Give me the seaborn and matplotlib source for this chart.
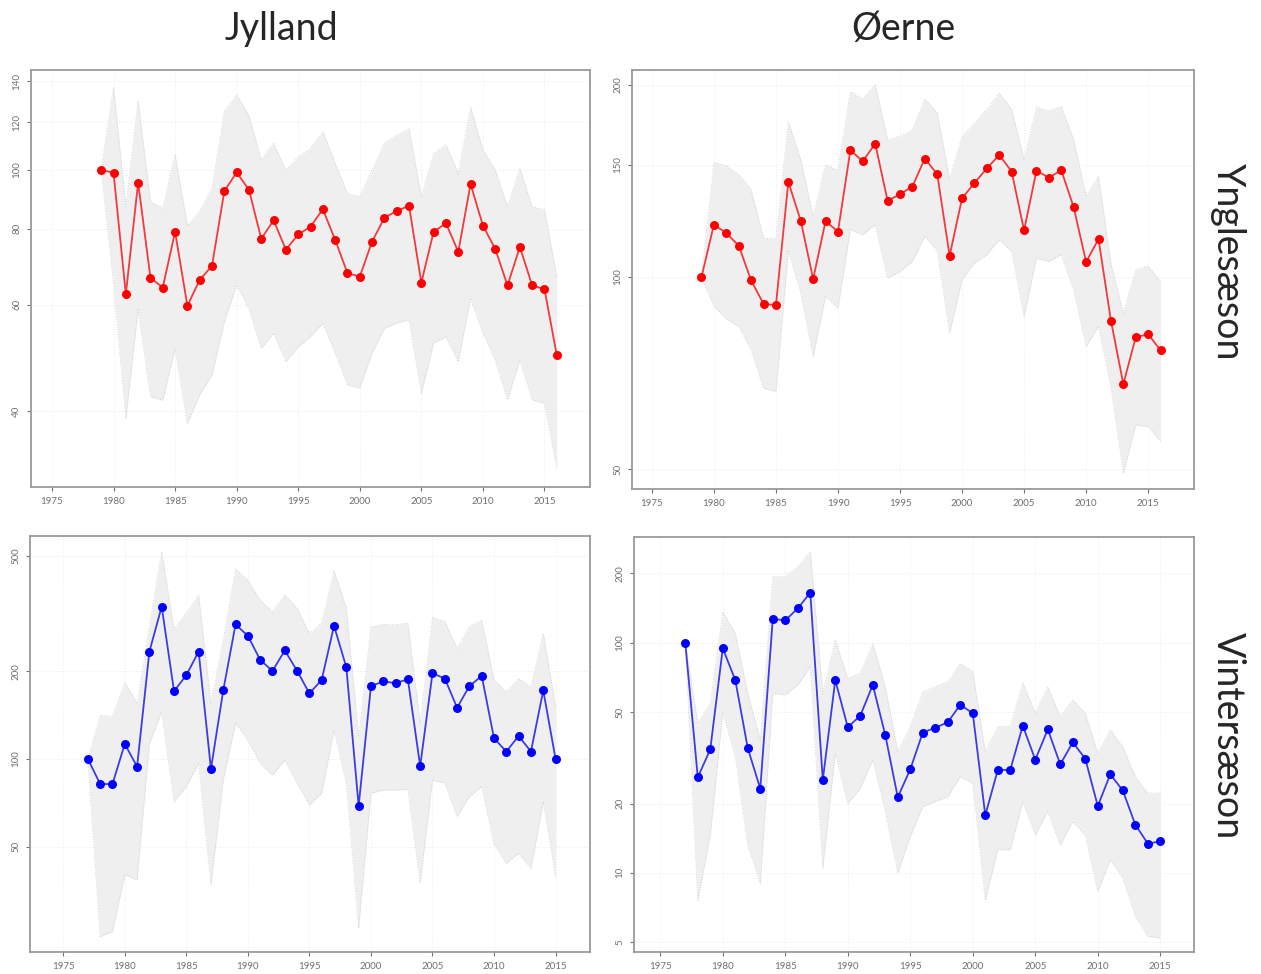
import matplotlib
matplotlib.use("Agg")
import matplotlib.pyplot as plt
import seaborn as sns
import numpy as np
from matplotlib.ticker import FixedLocator, NullLocator

# Jylland, ynglesæson (1979-2016)
years_jy = list(range(1979, 2017))
index_jy = [100, 99, 62.4, 95.3, 66.4, 64, 79.1, 59.7, 65.9, 69.5, 92.3, 99.1, 92.8, 77, 82.6,
            73.9, 78.3, 80.6, 86.2, 76.7, 67.6, 66.7, 76.2, 83.4, 85.6, 87.3, 65.2, 79.1, 81.7,
            73.3, 94.8, 81, 74.1, 64.5, 74.7, 64.5, 63.6, 49.5]
upper_jy = [100, 137, 87, 130, 88.7, 86.5, 106, 81, 85.4, 93.3, 124.8, 133, 123, 104, 110.7,
            100, 105, 108.6, 115.7, 102.6, 91.5, 90.4, 100, 110.7, 114.2, 117, 90.4, 106.5, 110,
            98.7, 127, 108, 100, 87, 100.6, 87, 86, 66.7]
lower_jy = [100, 65, 38.9, 59, 42.3, 41.7, 50.8, 38.2, 42.6, 45.9, 56.2, 64.6, 59, 50.8, 53.8,
            48.3, 51.1, 53.1, 55.9, 49.9, 44.2, 43.7, 49.9, 54.8, 55.9, 56.6, 42.8, 51.8, 53.1,
            48.3, 61.4, 53.8, 48.6, 41.8, 48.6, 41.8, 41.2, 32.2]

# Øerne, ynglesæson (1979-2016)
years_oy = list(range(1979, 2017))
index_oy = [100, 120.8, 117.2, 112, 98.8, 90.8, 90.4, 140.9, 122.5, 99.3, 122.3, 117.8, 158,
            151.8, 161.8, 131.7, 134.8, 138.6, 153.3, 144.9, 108, 132.8, 140.4, 148, 155.3,
            146.3, 118.3, 146.8, 143.1, 147, 128.6, 105.6, 114.7, 85.5, 68, 80.5, 81.4, 76.8]
upper_oy = [100, 151, 149.5, 144.7, 137, 115, 114.8, 175, 152.7, 124.5, 150, 147, 195, 190,
            200, 164, 166, 170, 190, 180.8, 142, 166, 174, 183, 194, 183, 152.7, 184.5, 182,
            185, 164, 133.8, 144, 105, 87.8, 102.7, 104, 98.4]
lower_oy = [100, 90, 86, 83.7, 77, 67, 66.2, 110, 94.4, 75.1, 93.3, 89.4, 118.6, 116.5, 120.8,
            99.6, 102, 105.8, 115.8, 110, 81.7, 99, 105.2, 108.4, 114.4, 109.7, 86.8, 107,
            105.8, 108.4, 95.5, 77.9, 83.7, 67.4, 49.3, 58.7, 58.3, 55.3]

# Jylland, vintersæson (1977-2015)
years_jv = list(range(1977, 2016))
index_jv = [100, 82, 82, 112.6, 94.1, 234, 334, 171, 194, 234, 92.4, 172, 290, 265, 219, 200.7,
            236, 201, 168, 187, 287, 206.6, 68.9, 177.7, 185, 182, 188, 94.4, 197, 189, 150,
            178, 193, 117.8, 106, 120, 106, 172, 100]
upper_jv = [100, 141, 140, 183, 155, 285, 516, 278, 317, 366, 155, 256, 449, 412, 352, 321, 366,
            330, 270, 293, 443, 330, 119, 285, 290, 289, 293, 132.6, 307, 297, 240, 285, 300,
            187, 170, 189, 177, 270, 151]
lower_jv = [100, 24.5, 25.5, 39.9, 38.4, 113, 145, 71.3, 80.3, 96.6, 36.9, 84.7, 132.6, 116,
            96.6, 88, 99, 82.5, 69.5, 76.2, 125.8, 82.5, 26.2, 76.2, 78.2, 78.2, 78.6, 37.4,
            84.7, 82.5, 63.4, 74.2, 80.3, 51, 43.8, 47.4, 42, 71.3, 39.4]

# Øerne, vintersæson (1977-2015)
years_ov = list(range(1977, 2016))
index_ov = [100, 26, 34.4, 94.5, 68.8, 34.8, 23.2, 127, 125, 141, 165, 25.3, 68.8, 42.9, 48.2,
            65.5, 39.7, 21.3, 28.2, 40.7, 42.7, 45.1, 53.8, 49.3, 17.8, 28, 28, 43.6, 31, 42,
            29.6, 36.9, 31.3, 19.5, 26.8, 22.8, 16.2, 13.4, 13.7]
upper_ov = [100, 44.6, 54.5, 136, 110, 60.2, 37.8, 193.5, 193.5, 214, 248, 60, 102.7, 70, 73.6,
            99.3, 64.4, 33.6, 43.2, 61.3, 64.4, 67.7, 81.3, 74.8, 33.6, 43.2, 43.2, 67, 49.3,
            64.4, 47.7, 56.4, 49.3, 33.1, 41.8, 35.3, 26.2, 22.2, 22.2]
lower_ov = [100, 7.6, 14.6, 50, 32, 13.2, 9, 60.2, 59.3, 65.5, 78.7, 10.5, 33.1, 20, 23.3, 30.9,
            18.5, 10, 14.4, 19.4, 20.4, 21.4, 26.2, 24.5, 7.6, 12.6, 12.6, 20.4, 14.6, 18.5,
            13.2, 16.7, 14.6, 8.3, 11.4, 9.5, 6.5, 5.3, 5.2]

x_ticks = [1975, 1980, 1985, 1990, 1995, 2000, 2005, 2010, 2015]
col_titles = ["Jylland", "Øerne"]
row_titles = ["Ynglesæson", "Vintersæson"]

sns.set_style("white")
plt.rcParams['font.family'] = ['Lato', 'DejaVu Sans']

fig = plt.figure(figsize=(12.61, 9.74), dpi=100)

panels = [
    # data, axes rect, xlim, ylim, yticks, colour
    (years_jy, index_jy, upper_jy, lower_jy, [0.0246, 0.500, 0.4433, 0.4281],
     (1973.3, 2018.7), (30.0, 146.2), [40, 60, 80, 100, 120, 140], "#ff0000", "#f03a3d"),
    (years_oy, index_oy, upper_oy, lower_oy, [0.5012, 0.498, 0.4457, 0.4302],
     (1973.4, 2018.7), (46.6, 211), [50, 100, 150, 200], "#ff0000", "#f03a3d"),
    (years_jv, index_jv, upper_jv, lower_jv, [0.0238, 0.0226, 0.4441, 0.4271],
     (1972.3, 2017.8), (21.7, 584), [50, 100, 200, 500], "#0000ff", "#3c3ce2"),
    (years_ov, index_ov, upper_ov, lower_ov, [0.5028, 0.0226, 0.4441, 0.4261],
     (1972.9, 2017.7), (4.53, 288), [5, 10, 20, 50, 100, 200], "#0000ff", "#3c3ce2"),
]

for yrs, idx, hi, lo, rect, xl, yl, yt, mcol, lcol in panels:
    ax = fig.add_axes(rect)
    ax.set_yscale("log")
    ax.set_axisbelow(True)
    ax.grid(True, color="#ececec", lw=0.7, ls=":")

    ax.fill_between(yrs, lo, hi, color="#efefef", lw=0, zorder=1)
    ax.plot(yrs, hi, color="#d2d2d2", lw=0.7, ls=":", zorder=1.5)
    ax.plot(yrs, lo, color="#d2d2d2", lw=0.7, ls=":", zorder=1.5)

    sns.lineplot(x=yrs, y=idx, ax=ax, color=lcol, lw=1.3, estimator=None,
                 errorbar=None, zorder=2)
    sns.scatterplot(x=yrs, y=idx, ax=ax, color=mcol, s=42, linewidth=0, zorder=3)

    ax.set_xlim(*xl)
    ax.set_ylim(*yl)
    ax.xaxis.set_major_locator(FixedLocator(x_ticks))
    ax.set_xticklabels([str(t) for t in x_ticks])
    ax.yaxis.set_major_locator(FixedLocator(yt))
    ax.yaxis.set_minor_locator(NullLocator())
    ax.set_yticklabels([str(t) for t in yt])
    ax.tick_params(axis="both", labelsize=7, colors="#707070", length=3, width=0.8,
                   direction="out", bottom=True, left=True, pad=4)
    for lab in ax.get_yticklabels():
        lab.set_rotation(90)
        lab.set_va("center")
    ax.set_xlabel("")
    ax.set_ylabel("")
    for sp in ax.spines.values():
        sp.set_color("#9a9a9a")
        sp.set_linewidth(1.3)

fig.text(0.223, 0.970, col_titles[0], ha="center", va="center", fontsize=27)
fig.text(0.716, 0.970, col_titles[1], ha="center", va="center", fontsize=27)
fig.text(0.974, 0.731, row_titles[0], ha="center", va="center", fontsize=27, rotation=270)
fig.text(0.974, 0.245, row_titles[1], ha="center", va="center", fontsize=27, rotation=270)

fig.savefig("out.png", dpi=100)
